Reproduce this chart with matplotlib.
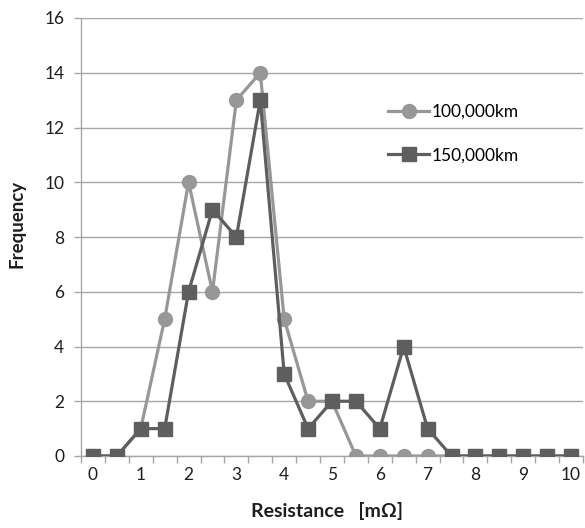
import numpy as np
import matplotlib.pyplot as plt
from matplotlib.ticker import FixedLocator

plt.rcParams['font.family'] = ['Lato', 'DejaVu Sans']

resistance = ['0', '0.5', '1', '1.5', '2', '2.5', '3', '3.5', '4', '4.5', '5',
              '5.5', '6', '6.5', '7', '7.5', '8', '8.5', '9', '9.5', '10']
freq_100k = [0, 0, 1, 5, 10, 6, 13, 14, 5, 2, 2, 0, 0, 0, 0, 0, 0, 0, 0, 0, 0]
freq_150k = [0, 0, 1, 1, 6, 9, 8, 13, 3, 1, 2, 2, 1, 4, 1, 0, 0, 0, 0, 0, 0]

light = '#979797'
dark = '#5e5e5e'
axis_col = '#a6a6a6'
text_col = '#1e1e1e'

fig = plt.figure(figsize=(5.85, 5.28), dpi=100)
ax = fig.add_axes([81 / 585, 1 - 456 / 528, 502 / 585, 438 / 528])

x = np.arange(len(resistance))
ax.plot(x, freq_100k, color=light, lw=2.3, marker='o', ms=10, label='100,000km', zorder=3)
ax.plot(x, freq_150k, color=dark, lw=2.3, marker='s', ms=9.5, label='150,000km', zorder=4)

ax.set_xlim(-0.5, len(resistance) - 0.5)
ax.set_ylim(0, 16)
ax.set_yticks(range(0, 17, 2))
ax.yaxis.grid(True, color=axis_col, lw=1)
ax.set_axisbelow(True)

# category labels on every other point, tick marks on the boundaries
ax.set_xticks(x[::2])
ax.set_xticklabels(resistance[::2])
ax.tick_params(axis='x', which='major', length=0, pad=8)
ax.xaxis.set_minor_locator(FixedLocator(np.arange(-0.5, len(resistance), 1)))
ax.tick_params(axis='x', which='minor', length=5, color=axis_col, width=1)
ax.tick_params(axis='y', length=5, color=axis_col, width=1, pad=7)
ax.tick_params(labelsize=12.5, labelcolor=text_col)

for side in ['top', 'right']:
    ax.spines[side].set_visible(False)
for side in ['left', 'bottom']:
    ax.spines[side].set_color(axis_col)
    ax.spines[side].set_linewidth(1)

ax.set_xlabel('Resistance   [m\u03a9]', fontsize=14, fontweight='bold', color=text_col)
ax.set_ylabel('Frequency', fontsize=13.5, fontweight='bold', color=text_col)
ax.xaxis.set_label_coords(0.49, -0.105)
ax.yaxis.set_label_coords(-0.11, 0.53)

ax.legend(loc='upper left', bbox_to_anchor=(0.58, 0.84), frameon=False,
          fontsize=12.5, handlelength=2.4, handletextpad=0.1, labelspacing=1.6)

fig.savefig('out.png', dpi=100)
